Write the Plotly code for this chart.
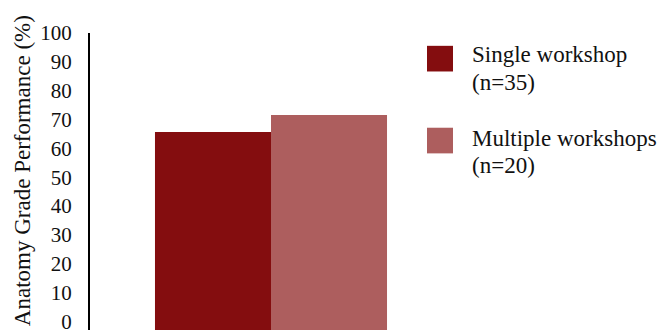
import plotly.graph_objects as go

categories = [""]
series_names = ["Single workshop", "Multiple workshops"]
series_n = ["(n=35)", "(n=20)"]
series_values = [[65.7], [71.6]]
colors = ["#840D0F", "#AD5E5E"]
tick_vals = list(range(0, 101, 10))

FONT = "Liberation Serif"
TC = "#111111"
YMIN = -3

fig = go.Figure()
for name, vals, col in zip(series_names, series_values, colors):
    fig.add_trace(go.Bar(x=categories, y=[v - YMIN for v in vals], base=YMIN, name=name,
                         marker=dict(color=col, line=dict(width=0)), showlegend=False))

W, H = 665, 334
ml, mr, mt, mb = 90, 213, 33, 0
fig.update_layout(
    width=W, height=H,
    margin=dict(l=ml, r=mr, t=mt, b=mb),
    paper_bgcolor="white", plot_bgcolor="white",
    barmode="group", bargap=0.359, bargroupgap=0,
    font=dict(family=FONT, size=21, color=TC),
    xaxis=dict(showticklabels=False, showline=False, showgrid=False, zeroline=False, ticks=""),
    yaxis=dict(range=[YMIN, 100], tickvals=tick_vals, showgrid=False, zeroline=False,
               showline=True, linecolor="black", linewidth=2, ticks="",
               ticklabelstandoff=12, ticklabeloverflow="allow",
               tickfont=dict(family=FONT, size=21, color=TC)),
)

pw = W - ml - mr
ph = H - mt - mb
def px_x(x):
    return (x - ml) / pw
def px_y(y):
    return 1 - (y - mt) / ph

fig.add_annotation(text="Anatomy Grade Performance (%)", textangle=-90,
                   xref="paper", yref="paper", x=px_x(22), y=px_y(173),
                   xanchor="center", yanchor="middle",
                   showarrow=False, font=dict(family=FONT, size=23, color=TC))

sq_tops = [46, 129]
line_centers = [(55, 83), (140, 167)]
for i, (name, n, col) in enumerate(zip(series_names, series_n, colors)):
    t = sq_tops[i]
    fig.add_shape(type="rect", xref="paper", yref="paper",
                  x0=px_x(427), x1=px_x(453), y0=px_y(t + 26), y1=px_y(t),
                  fillcolor=col, line=dict(width=0))
    for txt, yc in zip((name, n), line_centers[i]):
        fig.add_annotation(text=txt, xref="paper", yref="paper",
                           x=px_x(470), y=px_y(yc), xanchor="left", yanchor="middle", align="left",
                           showarrow=False, font=dict(family=FONT, size=23, color=TC))

fig.write_html("out.html")
